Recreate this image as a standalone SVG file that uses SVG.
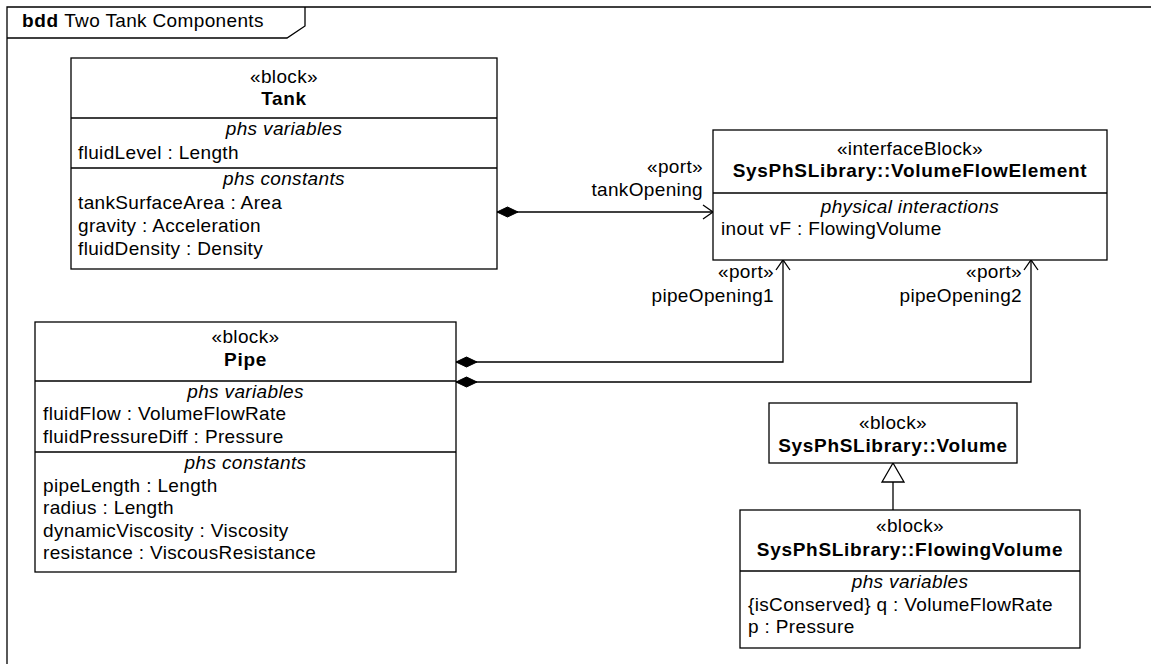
<svg xmlns="http://www.w3.org/2000/svg" width="1151" height="664" viewBox="0 0 1151 664">
<style>
text{font-family:"Liberation Sans",Arial,sans-serif;font-size:19px;fill:#000;letter-spacing:0.35px}
.c{text-anchor:middle}
.e{text-anchor:end}
.b{font-weight:bold;letter-spacing:0.7px}
.i{font-style:italic}
.box{fill:#fff;stroke:#000;stroke-width:1.3}
.ln{fill:none;stroke:#000;stroke-width:1.3}
</style>
<defs>
<marker id="diamond" markerUnits="userSpaceOnUse" markerWidth="22" markerHeight="12" refX="0" refY="0" orient="auto" overflow="visible"><path d="M0,0 L10.5,-5 L21,0 L10.5,5 Z" fill="#000" stroke="#000" stroke-width="1"/></marker>
<marker id="open" markerUnits="userSpaceOnUse" markerWidth="12" markerHeight="16" refX="0" refY="0" orient="auto" overflow="visible"><path d="M-10,-7 L0,0 L-10,7" fill="none" stroke="#000" stroke-width="1.3"/></marker>
<marker id="tri" markerUnits="userSpaceOnUse" markerWidth="20" markerHeight="24" refX="0" refY="0" orient="auto" overflow="visible"><path d="M0,0 L-19,-11 L-19,11 Z" fill="#fff" stroke="#000" stroke-width="1.3"/></marker>
</defs>
<rect width="1151" height="664" fill="#fff"/>
<g id="frame">
<path class="ln" d="M7,664 V7 H1151"/>
<path class="ln" d="M7,38 H287 L305,26 V7"/>
<text x="22" y="27"><tspan class="b">bdd</tspan> Two Tank Components</text>
</g>
<g id="connectors">
<path class="ln" d="M497,212 H713" marker-start="url(#diamond)" marker-end="url(#open)"/>
<path class="ln" d="M456,362 H783 V260" marker-start="url(#diamond)" marker-end="url(#open)"/>
<path class="ln" d="M456,382 H1031 V260" marker-start="url(#diamond)" marker-end="url(#open)"/>
<path class="ln" d="M893,510 V463" marker-end="url(#tri)"/>
<text class="e" x="703" y="173">«port»</text>
<text class="e" x="703" y="196">tankOpening</text>
<text class="e" x="774" y="278">«port»</text>
<text class="e" x="774" y="302">pipeOpening1</text>
<text class="e" x="1022" y="278">«port»</text>
<text class="e" x="1022" y="302">pipeOpening2</text>
</g>
<g id="tank">
<rect class="box" x="71" y="58" width="426" height="211"/>
<path class="ln" d="M71,118 H497 M71,168 H497"/>
<text class="c" x="284" y="83">«block»</text>
<text class="c b" x="284" y="105">Tank</text>
<text class="c i" x="284" y="135">phs variables</text>
<text x="78" y="159">fluidLevel : Length</text>
<text class="c i" x="284" y="185">phs constants</text>
<text x="78" y="209">tankSurfaceArea : Area</text>
<text x="78" y="232">gravity : Acceleration</text>
<text x="78" y="255">fluidDensity : Density</text>
</g>
<g id="volumeFlowElement">
<rect class="box" x="713" y="130" width="394" height="130"/>
<path class="ln" d="M713,193 H1107"/>
<text class="c" x="910" y="155">«interfaceBlock»</text>
<text class="c b" x="910" y="177">SysPhSLibrary::VolumeFlowElement</text>
<text class="c i" x="910" y="213">physical interactions</text>
<text x="721" y="235">inout vF : FlowingVolume</text>
</g>
<g id="pipe">
<rect class="box" x="35" y="322" width="421" height="250"/>
<path class="ln" d="M35,381 H456 M35,452 H456"/>
<text class="c" x="245.5" y="343">«block»</text>
<text class="c b" x="245.5" y="366">Pipe</text>
<text class="c i" x="245.5" y="398">phs variables</text>
<text x="43" y="420">fluidFlow : VolumeFlowRate</text>
<text x="43" y="443">fluidPressureDiff : Pressure</text>
<text class="c i" x="245.5" y="469">phs constants</text>
<text x="43" y="492">pipeLength : Length</text>
<text x="43" y="514">radius : Length</text>
<text x="43" y="537">dynamicViscosity : Viscosity</text>
<text x="43" y="559">resistance : ViscousResistance</text>
</g>
<g id="volume">
<rect class="box" x="769" y="403" width="248" height="60"/>
<text class="c" x="893" y="429">«block»</text>
<text class="c b" x="893" y="452">SysPhSLibrary::Volume</text>
</g>
<g id="flowingVolume">
<rect class="box" x="740" y="510" width="340" height="138"/>
<path class="ln" d="M740,571 H1080"/>
<text class="c" x="910" y="532">«block»</text>
<text class="c b" x="910" y="556">SysPhSLibrary::FlowingVolume</text>
<text class="c i" x="910" y="588">phs variables</text>
<text x="748" y="611">{isConserved} q : VolumeFlowRate</text>
<text x="748" y="633">p : Pressure</text>
</g>
</svg>
